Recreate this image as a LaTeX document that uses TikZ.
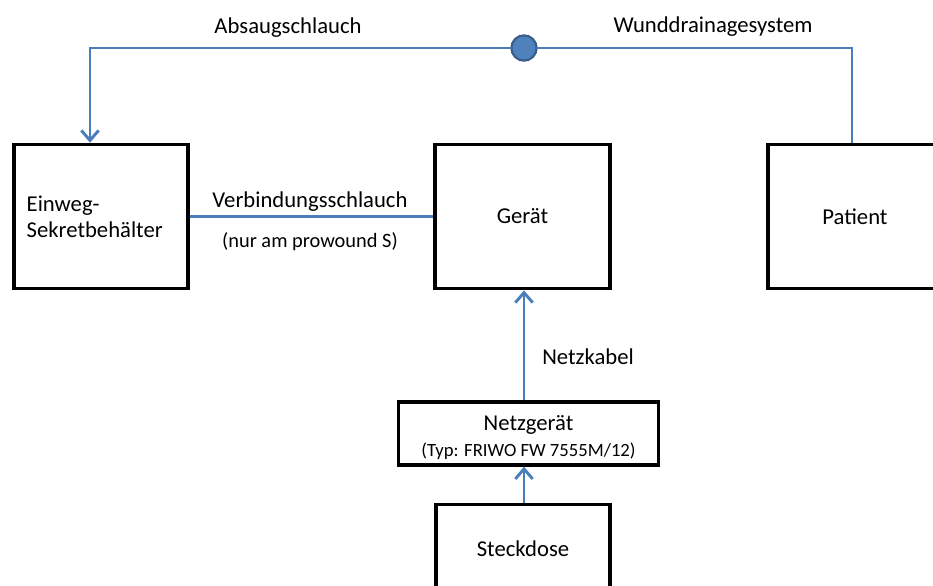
\documentclass[tikz,border=0pt]{standalone}
\usepackage{fontspec}
\setmainfont{Carlito}
\usetikzlibrary{positioning, arrows, arrows.meta}

\definecolor{schlauchblau}{RGB}{74,126,187}
\definecolor{ventilblau}{RGB}{79,129,189}
\definecolor{ventilrand}{RGB}{56,93,138}

\begin{document}
\begin{tikzpicture}[x=0.75pt, y=-0.75pt,
		every node/.style={font=\fontsize{17}{19.5}\selectfont},
		kasten/.style={draw, line width=2.8pt, minimum width=131pt, minimum height=108pt, inner sep=2pt},
		schlauch/.style={draw=schlauchblau, line width=2.2pt},
		spitze/.style={-{Straight Barb[length=7.5pt, width=13pt, line width=2.2pt]}},
		klein/.style={font=\fontsize{15.3}{18}\selectfont}]
		\useasboundingbox (0,0) rectangle (933,586);
		\node[kasten] (ein) at (101,216.5) {};
		\node[kasten] (ger) at (522.5,216.5) {Gerät};
		\node[kasten] (pat) at (855,216.5) {Patient};
		\node[kasten, minimum width=195pt, minimum height=47pt] (netz) at (528.5,433.5) {};
		\node[align=center] (netzname) at (528.5,437)
			{Netzgerät\\[0pt]{\fontsize{14}{16}\selectfont(Typ: FRIWO FW 7555M/12)}};
		\node[kasten] (steck) at (523,576.5) {};
		\node (steckname) at (523,549) {Steckdose};
		\node[align=left, anchor=west] (einname) at (22,217) {Einweg-\\Sekretbehälter};
		\node[circle, fill=ventilblau, draw=ventilrand, line width=1.6pt, minimum size=19pt, inner sep=0pt] (ventil) at (524,48) {};
		\coordinate (links) at (90,48);
		\coordinate (rechts) at (852,48);
		
		\draw[schlauch, spitze]
		(rechts |- pat.north) -- (rechts) -- (ventil)
		(ventil) -- (links) -- (links |- ein.north);
		\path[schlauch]
		(ein.east) edge (ger.west)
		(ventil |- steck.north) edge[spitze] (ventil |- netz.south)
		(ventil |- netz.north) edge[spitze] (ventil |- ger.south);
		
		\node (absaug) at (288,28) {Absaugschlauch};
		\node (wund) at (713,27) {Wunddrainagesystem};
		\node (verb) at (310,202) {Verbindungsschlauch};
		\node[klein] (nur) at (310,242) {(nur am prowound S)};
		\node (kabel) at (588,357) {Netzkabel};
	\end{tikzpicture}
\end{document}
